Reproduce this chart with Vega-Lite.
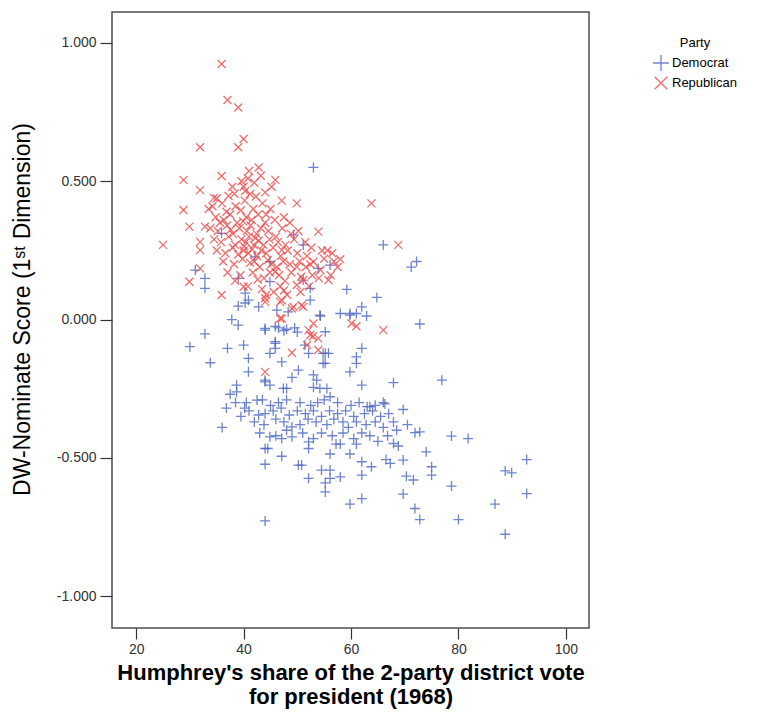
{
"$schema": "https://vega.github.io/schema/vega-lite/v6.json",
"width": 477,
"height": 616,
"autosize": {"type": "none"},
"padding": {"left": 112, "top": 12, "right": 170, "bottom": 87},
"background": "white",
"config": {"view": {"stroke": "#4d4d4d", "strokeWidth": 1.5}, "font": "Liberation Sans"},
"data": {"values": [
{"p":"Democrat","x":53.0,"y":0.55},{"p":"Democrat","x":35.9,"y":0.312},{"p":"Democrat","x":49.3,"y":0.306},{"p":"Democrat","x":51.1,"y":0.27},{"p":"Democrat","x":66.0,"y":0.27},
{"p":"Democrat","x":42.1,"y":0.227},{"p":"Democrat","x":44.9,"y":0.209},{"p":"Democrat","x":53.9,"y":0.185},{"p":"Democrat","x":56.1,"y":0.197},{"p":"Democrat","x":31.0,"y":0.179},
{"p":"Democrat","x":32.8,"y":0.149},{"p":"Democrat","x":32.8,"y":0.113},{"p":"Democrat","x":39.0,"y":0.149},{"p":"Democrat","x":44.9,"y":0.137},{"p":"Democrat","x":51.1,"y":0.143},
{"p":"Democrat","x":52.4,"y":0.113},{"p":"Democrat","x":59.2,"y":0.109},{"p":"Democrat","x":64.8,"y":0.08},{"p":"Democrat","x":40.9,"y":0.07},{"p":"Democrat","x":39.0,"y":0.049},
{"p":"Democrat","x":42.8,"y":0.046},{"p":"Democrat","x":52.4,"y":0.07},{"p":"Democrat","x":46.2,"y":0.034},{"p":"Democrat","x":48.3,"y":0.028},{"p":"Democrat","x":54.3,"y":0.013},
{"p":"Democrat","x":58.0,"y":0.022},{"p":"Democrat","x":62.9,"y":0.013},{"p":"Democrat","x":62.0,"y":0.046},{"p":"Democrat","x":59.8,"y":0.016},{"p":"Democrat","x":37.8,"y":0.0},
{"p":"Democrat","x":39.0,"y":-0.02},{"p":"Democrat","x":44.0,"y":-0.032},{"p":"Democrat","x":46.5,"y":-0.03},{"p":"Democrat","x":48.0,"y":-0.035},{"p":"Democrat","x":49.5,"y":-0.03},
{"p":"Democrat","x":50.0,"y":-0.045},{"p":"Democrat","x":32.8,"y":-0.052},{"p":"Democrat","x":30.0,"y":-0.098},{"p":"Democrat","x":37.0,"y":-0.104},{"p":"Democrat","x":40.0,"y":-0.092},
{"p":"Democrat","x":45.9,"y":-0.08},{"p":"Democrat","x":45.9,"y":-0.104},{"p":"Democrat","x":33.8,"y":-0.156},{"p":"Democrat","x":40.9,"y":-0.14},{"p":"Democrat","x":47.1,"y":-0.153},
{"p":"Democrat","x":44.9,"y":-0.122},{"p":"Democrat","x":51.4,"y":-0.092},{"p":"Democrat","x":54.8,"y":-0.122},{"p":"Democrat","x":54.8,"y":-0.158},{"p":"Democrat","x":62.0,"y":-0.104},
{"p":"Democrat","x":61.0,"y":-0.135},{"p":"Democrat","x":61.0,"y":-0.158},{"p":"Democrat","x":59.8,"y":-0.189},{"p":"Democrat","x":67.9,"y":-0.228},{"p":"Democrat","x":40.9,"y":-0.189},
{"p":"Democrat","x":38.7,"y":-0.237},{"p":"Democrat","x":38.7,"y":-0.261},{"p":"Democrat","x":44.0,"y":-0.225},{"p":"Democrat","x":62.0,"y":-0.237},{"p":"Democrat","x":72.8,"y":-0.016},
{"p":"Democrat","x":76.9,"y":-0.219},{"p":"Democrat","x":71.2,"y":0.19},{"p":"Democrat","x":72.2,"y":0.21},{"p":"Democrat","x":78.7,"y":-0.421},{"p":"Democrat","x":81.8,"y":-0.43},
{"p":"Democrat","x":92.7,"y":-0.506},{"p":"Democrat","x":88.7,"y":-0.547},{"p":"Democrat","x":89.9,"y":-0.554},{"p":"Democrat","x":92.7,"y":-0.629},{"p":"Democrat","x":86.8,"y":-0.667},
{"p":"Democrat","x":88.7,"y":-0.776},{"p":"Democrat","x":80.0,"y":-0.723},{"p":"Democrat","x":78.7,"y":-0.602},{"p":"Democrat","x":72.8,"y":-0.723},{"p":"Democrat","x":71.9,"y":-0.683},
{"p":"Democrat","x":69.7,"y":-0.631},{"p":"Democrat","x":75.0,"y":-0.532},{"p":"Democrat","x":75.0,"y":-0.562},{"p":"Democrat","x":74.0,"y":-0.478},{"p":"Democrat","x":72.8,"y":-0.406},
{"p":"Democrat","x":71.9,"y":-0.409},{"p":"Democrat","x":69.7,"y":-0.508},{"p":"Democrat","x":70.3,"y":-0.566},{"p":"Democrat","x":71.6,"y":-0.58},{"p":"Democrat","x":66.5,"y":-0.506},
{"p":"Democrat","x":67.3,"y":-0.52},{"p":"Democrat","x":69.7,"y":-0.325},{"p":"Democrat","x":67.9,"y":-0.37},{"p":"Democrat","x":68.5,"y":-0.40},{"p":"Democrat","x":67.9,"y":-0.448},
{"p":"Democrat","x":68.8,"y":-0.457},{"p":"Democrat","x":66.3,"y":-0.305},{"p":"Democrat","x":63.5,"y":-0.315},{"p":"Democrat","x":63.0,"y":-0.315},{"p":"Democrat","x":62.0,"y":-0.514},
{"p":"Democrat","x":63.8,"y":-0.532},{"p":"Democrat","x":62.0,"y":-0.562},{"p":"Democrat","x":62.0,"y":-0.647},{"p":"Democrat","x":59.8,"y":-0.667},{"p":"Democrat","x":58.0,"y":-0.569},
{"p":"Democrat","x":56.1,"y":-0.544},{"p":"Democrat","x":56.1,"y":-0.574},{"p":"Democrat","x":55.2,"y":-0.623},{"p":"Democrat","x":55.2,"y":-0.59},{"p":"Democrat","x":54.5,"y":-0.544},
{"p":"Democrat","x":52.1,"y":-0.574},{"p":"Democrat","x":50.2,"y":-0.526},{"p":"Democrat","x":50.8,"y":-0.526},{"p":"Democrat","x":47.1,"y":-0.494},{"p":"Democrat","x":44.0,"y":-0.523},
{"p":"Democrat","x":44.0,"y":-0.466},{"p":"Democrat","x":44.5,"y":-0.466},{"p":"Democrat","x":44.0,"y":-0.728},{"p":"Democrat","x":52.1,"y":-0.466},{"p":"Democrat","x":52.1,"y":-0.442},
{"p":"Democrat","x":56.1,"y":-0.486},{"p":"Democrat","x":58.0,"y":-0.45},{"p":"Democrat","x":57.2,"y":-0.45},{"p":"Democrat","x":59.8,"y":-0.486},{"p":"Democrat","x":61.0,"y":-0.45},
{"p":"Democrat","x":49.0,"y":-0.388},{"p":"Democrat","x":49.0,"y":-0.424},{"p":"Democrat","x":47.1,"y":-0.43},{"p":"Democrat","x":44.9,"y":-0.424},{"p":"Democrat","x":42.5,"y":-0.291},
{"p":"Democrat","x":42.8,"y":-0.345},{"p":"Democrat","x":59.8,"y":0.022},{"p":"Democrat","x":61.0,"y":0.022},{"p":"Democrat","x":54.2,"y":0.016},{"p":"Democrat","x":44.0,"y":-0.038},
{"p":"Democrat","x":45.9,"y":-0.025},{"p":"Democrat","x":47.5,"y":-0.04},{"p":"Democrat","x":55.2,"y":-0.044},{"p":"Democrat","x":45.9,"y":-0.086},{"p":"Democrat","x":52.1,"y":-0.122},
{"p":"Democrat","x":55.2,"y":-0.122},{"p":"Democrat","x":55.8,"y":-0.122},{"p":"Democrat","x":55.2,"y":-0.158},{"p":"Democrat","x":50.2,"y":-0.183},{"p":"Democrat","x":49.0,"y":-0.209},
{"p":"Democrat","x":44.0,"y":-0.219},{"p":"Democrat","x":44.9,"y":-0.237},{"p":"Democrat","x":53.0,"y":-0.2},{"p":"Democrat","x":53.6,"y":-0.219},{"p":"Democrat","x":53.0,"y":-0.245},
{"p":"Democrat","x":54.2,"y":-0.249},{"p":"Democrat","x":55.5,"y":-0.249},{"p":"Democrat","x":47.4,"y":-0.249},{"p":"Democrat","x":48.0,"y":-0.249},{"p":"Democrat","x":56.1,"y":-0.279},
{"p":"Democrat","x":36.0,"y":-0.39},{"p":"Democrat","x":40.3,"y":0.096},{"p":"Democrat","x":40.3,"y":0.06},{"p":"Democrat","x":37.5,"y":-0.27},{"p":"Democrat","x":36.8,"y":-0.32},
{"p":"Democrat","x":38.5,"y":-0.30},{"p":"Democrat","x":39.5,"y":-0.35},{"p":"Democrat","x":40.2,"y":-0.32},
{"p":"Democrat","x":40.5,"y":-0.30},{"p":"Democrat","x":43.5,"y":-0.29},{"p":"Democrat","x":45.0,"y":-0.31},{"p":"Democrat","x":46.5,"y":-0.30},{"p":"Democrat","x":48.0,"y":-0.29},
{"p":"Democrat","x":50.5,"y":-0.30},{"p":"Democrat","x":52.5,"y":-0.31},{"p":"Democrat","x":53.8,"y":-0.30},{"p":"Democrat","x":55.0,"y":-0.29},{"p":"Democrat","x":57.5,"y":-0.30},
{"p":"Democrat","x":60.0,"y":-0.31},{"p":"Democrat","x":61.5,"y":-0.30},{"p":"Democrat","x":64.5,"y":-0.31},{"p":"Democrat","x":66.0,"y":-0.30},
{"p":"Democrat","x":41.0,"y":-0.33},{"p":"Democrat","x":44.0,"y":-0.34},{"p":"Democrat","x":45.5,"y":-0.33},{"p":"Democrat","x":47.0,"y":-0.32},{"p":"Democrat","x":48.5,"y":-0.345},
{"p":"Democrat","x":50.0,"y":-0.33},{"p":"Democrat","x":51.5,"y":-0.34},{"p":"Democrat","x":53.0,"y":-0.33},{"p":"Democrat","x":54.5,"y":-0.35},{"p":"Democrat","x":56.0,"y":-0.33},
{"p":"Democrat","x":57.5,"y":-0.34},{"p":"Democrat","x":59.0,"y":-0.33},{"p":"Democrat","x":60.5,"y":-0.35},{"p":"Democrat","x":62.5,"y":-0.34},{"p":"Democrat","x":64.0,"y":-0.33},
{"p":"Democrat","x":65.5,"y":-0.35},{"p":"Democrat","x":67.0,"y":-0.34},
{"p":"Democrat","x":42.0,"y":-0.37},{"p":"Democrat","x":43.8,"y":-0.38},{"p":"Democrat","x":46.0,"y":-0.36},{"p":"Democrat","x":47.5,"y":-0.37},{"p":"Democrat","x":50.5,"y":-0.38},
{"p":"Democrat","x":52.0,"y":-0.36},{"p":"Democrat","x":53.5,"y":-0.37},{"p":"Democrat","x":55.5,"y":-0.38},{"p":"Democrat","x":56.8,"y":-0.36},{"p":"Democrat","x":58.5,"y":-0.37},
{"p":"Democrat","x":59.5,"y":-0.39},{"p":"Democrat","x":61.0,"y":-0.37},{"p":"Democrat","x":62.8,"y":-0.38},{"p":"Democrat","x":64.5,"y":-0.37},{"p":"Democrat","x":66.0,"y":-0.39},
{"p":"Democrat","x":70.5,"y":-0.38},
{"p":"Democrat","x":43.0,"y":-0.41},{"p":"Democrat","x":46.0,"y":-0.42},{"p":"Democrat","x":48.0,"y":-0.40},{"p":"Democrat","x":51.0,"y":-0.41},{"p":"Democrat","x":53.0,"y":-0.43},
{"p":"Democrat","x":54.5,"y":-0.41},{"p":"Democrat","x":56.5,"y":-0.42},{"p":"Democrat","x":58.5,"y":-0.41},{"p":"Democrat","x":60.5,"y":-0.43},{"p":"Democrat","x":62.0,"y":-0.41},
{"p":"Democrat","x":63.5,"y":-0.42},{"p":"Democrat","x":65.0,"y":-0.44},{"p":"Democrat","x":66.8,"y":-0.42},
{"p":"Republican","x":35.9,"y":0.924},{"p":"Republican","x":37.0,"y":0.794},{"p":"Republican","x":39.0,"y":0.767},{"p":"Republican","x":40.0,"y":0.653},{"p":"Republican","x":39.0,"y":0.623},
{"p":"Republican","x":31.9,"y":0.623},{"p":"Republican","x":28.8,"y":0.505},{"p":"Republican","x":35.9,"y":0.519},{"p":"Republican","x":41.0,"y":0.537},{"p":"Republican","x":42.8,"y":0.55},
{"p":"Republican","x":31.9,"y":0.468},{"p":"Republican","x":37.9,"y":0.48},{"p":"Republican","x":40.0,"y":0.48},{"p":"Republican","x":42.0,"y":0.495},{"p":"Republican","x":45.9,"y":0.505},
{"p":"Republican","x":47.1,"y":0.43},{"p":"Republican","x":49.9,"y":0.42},{"p":"Republican","x":63.8,"y":0.42},{"p":"Republican","x":28.8,"y":0.396},{"p":"Republican","x":41.2,"y":0.454},
{"p":"Republican","x":35.0,"y":0.438},{"p":"Republican","x":37.2,"y":0.447},{"p":"Republican","x":29.9,"y":0.336},{"p":"Republican","x":32.8,"y":0.336},{"p":"Republican","x":53.9,"y":0.318},
{"p":"Republican","x":25.0,"y":0.27},{"p":"Republican","x":31.9,"y":0.281},{"p":"Republican","x":31.9,"y":0.251},{"p":"Republican","x":68.8,"y":0.27},{"p":"Republican","x":58.0,"y":0.218},
{"p":"Republican","x":31.9,"y":0.185},{"p":"Republican","x":29.9,"y":0.137},{"p":"Republican","x":35.9,"y":0.089},{"p":"Republican","x":53.0,"y":0.209},{"p":"Republican","x":54.3,"y":0.179},
{"p":"Republican","x":55.8,"y":0.143},{"p":"Republican","x":47.1,"y":0.251},{"p":"Republican","x":44.0,"y":0.077},{"p":"Republican","x":44.2,"y":0.09},{"p":"Republican","x":47.1,"y":0.07},
{"p":"Republican","x":49.3,"y":0.046},{"p":"Republican","x":51.1,"y":0.046},{"p":"Republican","x":47.1,"y":0.004},{"p":"Republican","x":60.1,"y":-0.014},{"p":"Republican","x":61.0,"y":-0.024},
{"p":"Republican","x":66.0,"y":-0.038},{"p":"Republican","x":53.0,"y":-0.014},{"p":"Republican","x":52.4,"y":-0.056},{"p":"Republican","x":52.9,"y":-0.06},{"p":"Republican","x":51.8,"y":-0.092},
{"p":"Republican","x":53.9,"y":-0.11},{"p":"Republican","x":49.0,"y":-0.12},{"p":"Republican","x":44.0,"y":-0.189},{"p":"Republican","x":40.0,"y":0.119},{"p":"Republican","x":49.9,"y":0.125},
{"p":"Republican","x":49.9,"y":0.191},{"p":"Republican","x":51.1,"y":0.143},{"p":"Republican","x":45.9,"y":0.173},{"p":"Republican","x":44.0,"y":0.064},{"p":"Republican","x":46.8,"y":0.064},
{"p":"Republican","x":49.0,"y":0.04},{"p":"Republican","x":50.8,"y":0.052},{"p":"Republican","x":46.8,"y":0.004},{"p":"Republican","x":52.1,"y":-0.038},{"p":"Republican","x":53.9,"y":-0.068},
{"p":"Republican","x":34.2,"y":0.41},{"p":"Republican","x":36.0,"y":0.42},{"p":"Republican","x":38.5,"y":0.41},{"p":"Republican","x":40.2,"y":0.43},{"p":"Republican","x":41.8,"y":0.40},
{"p":"Republican","x":43.5,"y":0.42},{"p":"Republican","x":45.0,"y":0.40},{"p":"Republican","x":36.8,"y":0.39},{"p":"Republican","x":39.5,"y":0.395},{"p":"Republican","x":44.2,"y":0.38},
{"p":"Republican","x":33.5,"y":0.40},{"p":"Republican","x":34.8,"y":0.37},{"p":"Republican","x":36.3,"y":0.36},{"p":"Republican","x":37.5,"y":0.38},{"p":"Republican","x":38.8,"y":0.35},
{"p":"Republican","x":40.5,"y":0.37},{"p":"Republican","x":41.5,"y":0.36},{"p":"Republican","x":42.7,"y":0.38},{"p":"Republican","x":44.0,"y":0.35},{"p":"Republican","x":45.8,"y":0.36},
{"p":"Republican","x":47.5,"y":0.37},{"p":"Republican","x":48.6,"y":0.35},{"p":"Republican","x":35.6,"y":0.35},{"p":"Republican","x":39.9,"y":0.355},{"p":"Republican","x":33.8,"y":0.33},
{"p":"Republican","x":35.2,"y":0.32},{"p":"Republican","x":36.9,"y":0.34},{"p":"Republican","x":38.0,"y":0.31},{"p":"Republican","x":39.2,"y":0.33},{"p":"Republican","x":40.6,"y":0.32},
{"p":"Republican","x":41.3,"y":0.34},{"p":"Republican","x":42.4,"y":0.31},{"p":"Republican","x":43.2,"y":0.33},{"p":"Republican","x":44.6,"y":0.32},{"p":"Republican","x":46.0,"y":0.30},
{"p":"Republican","x":47.2,"y":0.33},{"p":"Republican","x":48.8,"y":0.31},{"p":"Republican","x":50.2,"y":0.32},{"p":"Republican","x":37.6,"y":0.325},{"p":"Republican","x":34.5,"y":0.29},
{"p":"Republican","x":35.8,"y":0.28},{"p":"Republican","x":37.2,"y":0.30},{"p":"Republican","x":38.4,"y":0.27},{"p":"Republican","x":39.6,"y":0.29},{"p":"Republican","x":40.4,"y":0.28},
{"p":"Republican","x":41.0,"y":0.30},{"p":"Republican","x":41.9,"y":0.27},{"p":"Republican","x":42.8,"y":0.285},{"p":"Republican","x":43.7,"y":0.27},{"p":"Republican","x":44.8,"y":0.29},
{"p":"Republican","x":46.4,"y":0.28},{"p":"Republican","x":47.8,"y":0.27},{"p":"Republican","x":49.4,"y":0.29},{"p":"Republican","x":51.5,"y":0.28},{"p":"Republican","x":52.6,"y":0.26},
{"p":"Republican","x":40.1,"y":0.265},{"p":"Republican","x":42.2,"y":0.295},{"p":"Republican","x":35.0,"y":0.25},{"p":"Republican","x":36.6,"y":0.24},{"p":"Republican","x":38.0,"y":0.26},
{"p":"Republican","x":39.0,"y":0.235},{"p":"Republican","x":40.0,"y":0.25},{"p":"Republican","x":40.9,"y":0.24},{"p":"Republican","x":41.6,"y":0.255},{"p":"Republican","x":42.5,"y":0.23},
{"p":"Republican","x":43.3,"y":0.25},{"p":"Republican","x":44.2,"y":0.24},{"p":"Republican","x":45.5,"y":0.26},{"p":"Republican","x":46.9,"y":0.23},{"p":"Republican","x":48.2,"y":0.25},
{"p":"Republican","x":50.0,"y":0.24},{"p":"Republican","x":51.8,"y":0.23},{"p":"Republican","x":54.6,"y":0.25},{"p":"Republican","x":55.6,"y":0.25},{"p":"Republican","x":56.5,"y":0.24},
{"p":"Republican","x":36.2,"y":0.21},{"p":"Republican","x":38.2,"y":0.20},{"p":"Republican","x":39.8,"y":0.22},{"p":"Republican","x":41.2,"y":0.205},{"p":"Republican","x":42.0,"y":0.21},
{"p":"Republican","x":43.0,"y":0.19},{"p":"Republican","x":44.5,"y":0.215},{"p":"Republican","x":45.2,"y":0.20},{"p":"Republican","x":46.2,"y":0.19},{"p":"Republican","x":47.4,"y":0.21},
{"p":"Republican","x":48.6,"y":0.20},{"p":"Republican","x":50.4,"y":0.21},{"p":"Republican","x":51.6,"y":0.19},{"p":"Republican","x":52.4,"y":0.20},{"p":"Republican","x":55.0,"y":0.22},
{"p":"Republican","x":56.8,"y":0.21},{"p":"Republican","x":57.5,"y":0.19},{"p":"Republican","x":37.0,"y":0.17},{"p":"Republican","x":39.4,"y":0.16},{"p":"Republican","x":41.7,"y":0.17},
{"p":"Republican","x":43.8,"y":0.15},{"p":"Republican","x":44.9,"y":0.17},{"p":"Republican","x":46.6,"y":0.16},{"p":"Republican","x":47.7,"y":0.14},{"p":"Republican","x":48.9,"y":0.17},
{"p":"Republican","x":50.7,"y":0.155},{"p":"Republican","x":52.8,"y":0.16},{"p":"Republican","x":54.0,"y":0.15},{"p":"Republican","x":56.2,"y":0.16},{"p":"Republican","x":38.4,"y":0.14},
{"p":"Republican","x":42.6,"y":0.145},{"p":"Republican","x":40.8,"y":0.12},{"p":"Republican","x":43.4,"y":0.11},{"p":"Republican","x":45.6,"y":0.10},{"p":"Republican","x":46.8,"y":0.12},
{"p":"Republican","x":48.1,"y":0.09},{"p":"Republican","x":50.6,"y":0.10},{"p":"Republican","x":52.2,"y":0.12},{"p":"Republican","x":47.5,"y":0.105},{"p":"Republican","x":40.3,"y":0.465},
{"p":"Republican","x":42.3,"y":0.445},{"p":"Republican","x":38.3,"y":0.455},{"p":"Republican","x":44.0,"y":0.46},{"p":"Republican","x":34.5,"y":0.44},{"p":"Republican","x":43.2,"y":0.52},
{"p":"Republican","x":45.2,"y":0.48},{"p":"Republican","x":40.8,"y":0.51},{"p":"Republican","x":39.6,"y":0.50}
]},
"mark": {"type": "point", "filled": false, "size": 100, "strokeWidth": 1.3, "opacity": 0.8},
"encoding": {
"x": {"field": "x", "type": "quantitative",
"scale": {"domain": [15.5, 104.3], "nice": false, "zero": false},
"axis": {"values": [20, 40, 60, 80, 100], "grid": false, "domain": false, "tickSize": 11, "tickColor": "#333", "tickWidth": 1.2,
"labelFontSize": 14, "labelColor": "#333", "labelPadding": 3,
"title": ["Humphrey's share of the 2-party district vote", "for president (1968)"],
"titleFontSize": 22, "titleFontWeight": "bold", "titleColor": "#000", "titleLineHeight": 24, "titleY": 34, "titleBaseline": "top"}},
"y": {"field": "y", "type": "quantitative",
"scale": {"domain": [-1.115, 1.112], "nice": false, "zero": false},
"axis": {"values": [-1, -0.5, 0, 0.5, 1], "labelExpr": "replace(format(datum.value, '.3f'), '\u2212', '-')", "grid": false, "domain": false,
"tickSize": 12, "tickColor": "#333", "tickWidth": 1.2, "labelFontSize": 14, "labelColor": "#333", "labelPadding": 4,
"title": "DW-Nominate Score (1ˢᵗ Dimension)", "titleFontSize": 23, "titleFontWeight": "normal", "titleColor": "#000",
"titleX": -78, "titleY": 297}},
"color": {"field": "p", "type": "nominal",
"scale": {"domain": ["Democrat", "Republican"], "range": ["#4a66c2", "#f04848"]},
"legend": {"title": "Party", "orient": "none", "legendX": 540, "legendY": 25, "titleFontSize": 13, "titleFontWeight": "normal", "titleColor": "#000",
"titleAnchor": "middle", "labelFontSize": 13, "labelColor": "#000", "symbolSize": 250, "symbolStrokeWidth": 1.3, "rowPadding": 0, "titlePadding": 4, "labelOffset": 2}},
"shape": {"field": "p", "type": "nominal",
"scale": {"domain": ["Democrat", "Republican"], "range": ["M-1,0L1,0M0,-1L0,1", "M-0.8,-0.8L0.8,0.8M-0.8,0.8L0.8,-0.8"]},
"legend": {"title": "Party", "orient": "none", "legendX": 540, "legendY": 25, "titleFontSize": 13, "titleFontWeight": "normal", "titleColor": "#000",
"titleAnchor": "middle", "labelFontSize": 13, "labelColor": "#000", "symbolSize": 250, "symbolStrokeWidth": 1.3, "rowPadding": 0, "titlePadding": 4, "labelOffset": 2}}
}
}
